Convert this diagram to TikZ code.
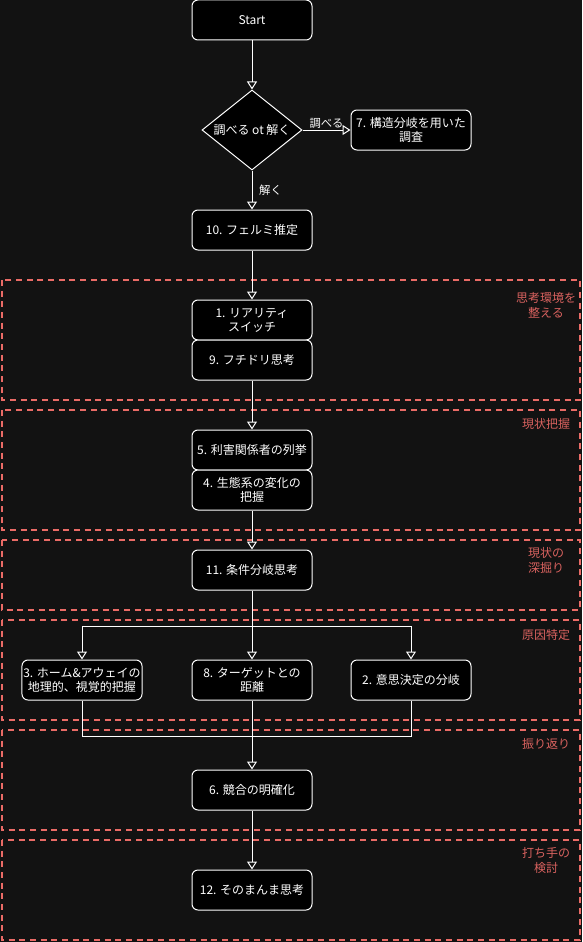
\documentclass[tikz,border=0pt]{standalone}
\usepackage{fontspec}
\setmainfont{Noto Sans CJK JP}
\usepackage{tikz}
\usetikzlibrary{arrows.meta,shapes.geometric}
\definecolor{Ink}{HTML}{121212}
\definecolor{Rose}{HTML}{EA6B66}
\definecolor{RoseText}{HTML}{D9625F}

\begin{document}
\begin{tikzpicture}[x=0.75pt,y=-0.75pt,
    stepbox/.style={draw=white,fill=black,line width=0.75pt,rounded corners=4.5pt,minimum width=90pt,minimum height=30pt,inner sep=1pt,align=center,text=white,font=\fontsize{9}{10.5}\selectfont},
    choice/.style={diamond,aspect=1.25,draw=white,fill=black,line width=0.75pt,minimum width=75pt,minimum height=60pt,inner sep=0pt,text=white,font=\fontsize{9}{10.5}\selectfont},
    link/.style={draw=white,line width=0.75pt},
    flow/.style={link,-{Triangle[open,length=6pt,width=7.5pt]}},
    lane/.style={draw=Rose,line width=1.5pt,dash pattern=on 4.5pt off 3.5pt},
    lanetag/.style={align=center,text=RoseText,font=\fontsize{9}{11.25}\selectfont},
    edgetag/.style={text=white,inner sep=1pt,font=\fontsize{8.5}{10}\selectfont}]
        \useasboundingbox (0,0) rectangle (582,942);
        \fill[Ink] (0,0) rectangle (582,942);

        % lanes
        \draw[lane] (2,280) rectangle (580,400);
        \draw[lane] (2,410) rectangle (580,530);
        \draw[lane] (2,540) rectangle (580,610);
        \draw[lane] (2,620) rectangle (580,720);
        \draw[lane] (2,730) rectangle (580,830);
        \draw[lane] (2,840) rectangle (580,940);
        \node[lanetag] (tagsetup) at (546,305) {思考環境を\\整える};
        \node[lanetag] (tagnow) at (546,424) {現状把握};
        \node[lanetag] (tagdeep) at (546,560.5) {現状の\\深掘り};
        \node[lanetag] (tagcause) at (546,635) {原因特定};
        \node[lanetag] (tagreview) at (546,744) {振り返り};
        \node[lanetag] (tagplan) at (546,860.5) {打ち手の\\検討};

        % steps
        \node[stepbox] (start) at (252,20) {Start};
        \node[choice] (ask) at (252,130) {調べる ot 解く};
        \node[stepbox] (survey) at (411,130) {7. 構造分岐を用いた\\調査};
        \node[stepbox] (fermi) at (252,230) {10. フェルミ推定};
        \node[stepbox] (reality) at (252,320) {1. リアリティ\\スイッチ};
        \node[stepbox] (fuchi) at (252,360) {9. フチドリ思考};
        \node[stepbox] (actors) at (252,450) {5. 利害関係者の列挙};
        \node[stepbox] (ecosys) at (252,490) {4. 生態系の変化の\\把握};
        \node[stepbox] (cond) at (252,570) {11. 条件分岐思考};
        \node[stepbox] (homeaway) at (82,680) {3. ホーム\&アウェイの\\地理的、視覚的把握};
        \node[stepbox] (target) at (252,680) {8. ターゲットとの\\距離};
        \node[stepbox] (decision) at (411,680) {2. 意思決定の分岐};
        \node[stepbox] (compete) at (252,790) {6. 競合の明確化};
        \node[stepbox] (asis) at (252,890) {12. そのまんま思考};
        \coordinate (split) at (252,626);
        \coordinate (merge) at (252,736);

        % connectors
        \draw[flow] (start) -- (ask);
        \draw[flow] (ask) -- node[edgetag,above] {調べる} (survey);
        \draw[flow] (ask) -- node[edgetag,right=4pt] {解く} (fermi);
        \draw[flow] (fermi) -- (reality);
        \draw[flow] (fuchi) -- (actors);
        \draw[flow] (ecosys) -- (cond);
        \draw[flow] (cond) -- (split) -| (homeaway);
        \draw[flow] (cond) -- (target);
        \draw[flow] (cond) -- (split) -| (decision);
        \draw[link] (homeaway) |- (merge);
        \draw[link] (decision) |- (merge);
        \draw[flow] (target) -- (compete);
        \draw[flow] (compete) -- (asis);
      \end{tikzpicture}
\end{document}
